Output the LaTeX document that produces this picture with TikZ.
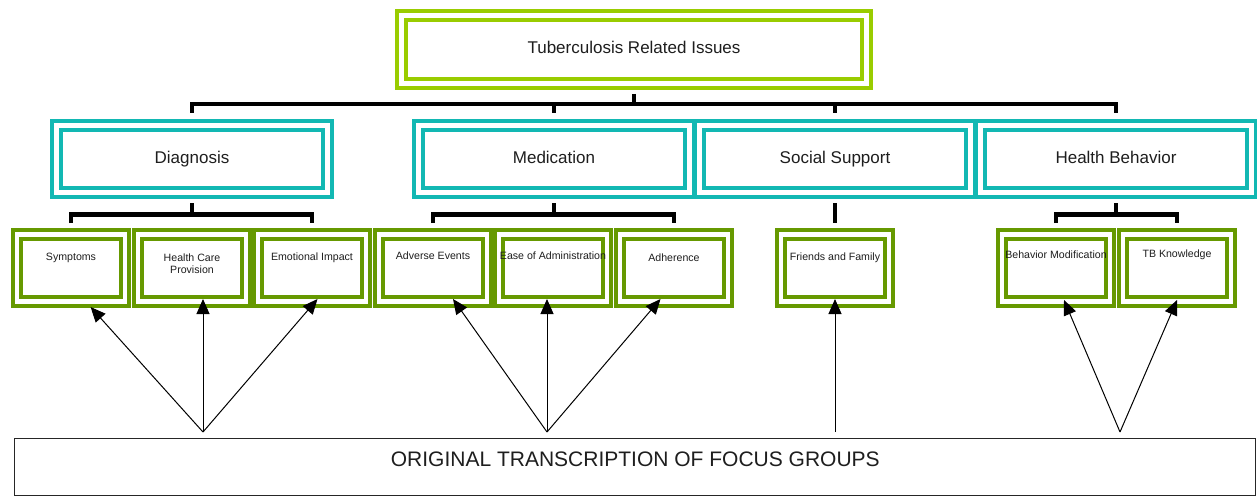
\documentclass[tikz,border=0pt]{standalone}
\usepackage{fontspec}
\setmainfont{Liberation Sans}
\usetikzlibrary{arrows.meta,calc}
\definecolor{limegreen}{HTML}{99CC00}
\definecolor{tealbox}{HTML}{12B8B3}
\definecolor{leafgreen}{HTML}{669900}
\definecolor{inktext}{HTML}{1E1E1E}

\begin{document}
\begin{tikzpicture}[x=1pt, y=1pt,
    framed/.style={rectangle, fill=white, double=white, double distance=4.3pt, line width=4.3pt, inner sep=0pt, outer sep=0pt, text=inktext},
    topbox/.style={framed, draw=limegreen, minimum width=465pt, minimum height=68pt, font=\fontsize{17}{20}\selectfont, text height=12.75pt, text depth=4.25pt},
    catbox/.style={framed, draw=tealbox, minimum width=271pt, minimum height=67pt, font=\fontsize{17}{20}\selectfont, text height=12.75pt, text depth=4.25pt},
    leafbox/.style={framed, draw=leafgreen, minimum width=108pt, minimum height=67pt},
    leaftext/.style={font=\fontsize{10.6}{12.4}\selectfont, align=center, text=inktext, inner sep=0pt},
    tree/.style={line width=4.5pt},
    arr/.style={-{Triangle[length=15pt, width=13pt]}, line width=1pt}]
    % Parameters
    \def\topY{-49.5}
    \def\catY{-159}
    \def\leafY{-268}
    \useasboundingbox (0,0) rectangle (1257,-497);

    % Top node
    \node[topbox] (top) at (634, \topY) {Tuberculosis Related Issues};

    % Category nodes
    \node[catbox] (diag) at (192, \catY) {Diagnosis};
    \node[catbox] (med) at (554, \catY) {Medication};
    \node[catbox] (soc) at (835, \catY) {Social Support};
    \node[catbox] (health) at (1116, \catY) {Health Behavior};

    % Leaf nodes (text sits near the top of each box)
    \foreach \nm/\xx/\lbl/\sh in {sym/71/Symptoms/10, hcp/192/{Health Care\\Provision}/4, emo/312/Emotional Impact/10,
        adv/433/Adverse Events/12, ease/553/Ease of Administration/12, adh/674/Adherence/10,
        fam/835/Friends and Family/10, mod/1056/Behavior Modification/13, know/1177/TB Knowledge/13} {
        \node[leafbox, label={[leaftext, yshift=\sh pt]center:\lbl}] (\nm) at (\xx, \leafY) {};
    }

    % Source box
    \node[rectangle, draw=black!85, line width=1.3pt, fill=white, minimum width=1241pt, minimum height=57pt, inner sep=0pt, outer sep=0pt,
        label={[font=\fontsize{21}{25}\selectfont, text=inktext, yshift=8.5pt]center:ORIGINAL TRANSCRIPTION OF FOCUS GROUPS}] (orig) at (635.3, -467.3) {};

    % Top level bracket
    \draw[tree] ([yshift=-10.5pt]top.south) -- ++(0,-10.5);
    \draw[tree] ([yshift=12.5pt]diag.north) |- ([yshift=21.5pt]health.north) -- ([yshift=12.5pt]health.north);
    \draw[tree] ([yshift=12.5pt]med.north) -- ++(0,9);
    \draw[tree] ([yshift=12.5pt]soc.north) -- ++(0,9);

    % Second level brackets
    \draw[tree] ([yshift=-10.5pt]diag.south) -- ++(0,-11.5);
    \draw[tree] ([yshift=11.5pt]sym.north) |- ([yshift=20pt]emo.north) -- ([yshift=11.5pt]emo.north);
    \draw[tree] ([yshift=-10.5pt]med.south) -- ++(0,-11.5);
    \draw[tree] ([yshift=11.5pt]adv.north) |- ([yshift=20pt]adh.north) -- ([yshift=11.5pt]adh.north);
    \draw[tree] ([yshift=-10.5pt]soc.south) -- ([yshift=11.5pt]fam.north);
    \draw[tree] ([yshift=-10.5pt]health.south) -- ++(0,-11.5);
    \draw[tree] ([yshift=11.5pt]mod.north) |- ([yshift=20pt]know.north) -- ([yshift=11.5pt]know.north);

    % Arrows from the transcription up to the codes
    \coordinate (srcD) at (203, -432);
    \coordinate (srcM) at (547, -432);
    \coordinate (srcS) at (835, -432);
    \coordinate (srcH) at (1120, -432);
    \draw[arr] (srcD) -- ($(sym.south)+(19.6,-5.5)$);
    \draw[arr] (srcD) -- ($(hcp.south)+(11,2.5)$);
    \draw[arr] (srcD) -- ($(emo.south)+(5.5,2.5)$);
    \draw[arr] (srcM) -- ($(adv.south)+(20,2.5)$);
    \draw[arr] (srcM) -- ($(ease.south)+(-6,2.5)$);
    \draw[arr] (srcM) -- ($(adh.south)+(-13.5,2.5)$);
    \draw[arr] (srcS) -- ($(fam.south)+(0,2.5)$);
    \draw[arr] (srcH) -- ($(mod.south)+(8,1.5)$);
    \draw[arr] (srcH) -- ($(know.south)+(0,1.5)$);

\end{tikzpicture}
\end{document}
